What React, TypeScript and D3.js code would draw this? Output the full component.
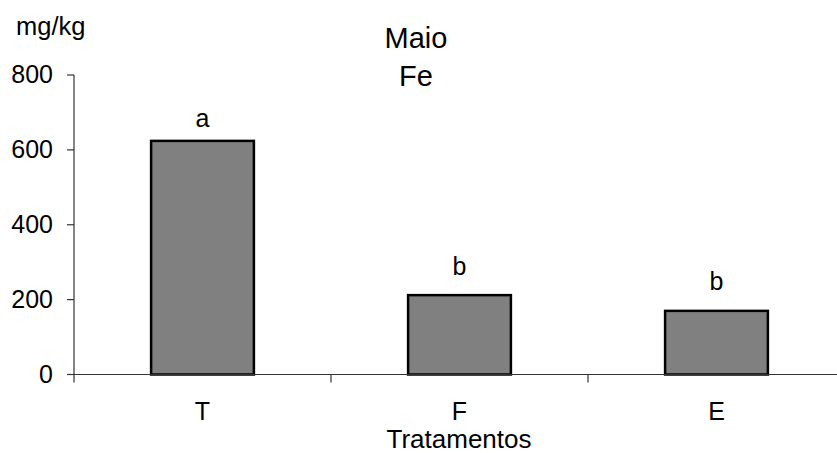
import React from "react";
import * as d3 from "d3";

const categories = ["T", "F", "E"];
const values = [624, 212, 170];
const letters = ["a", "b", "b"];
const letterPos = [660, 265, 225];
const yTicks = [0, 200, 400, 600, 800];

const W = 837;
const H = 453;
const FONT = "Arial, 'Liberation Sans', sans-serif";

export default function App() {
  const x = d3.scaleBand<string>().domain(categories).range([74, 845]).paddingInner(0.6).paddingOuter(0.3);
  const y = d3.scaleLinear().domain([0, 800]).range([374.5, 75]);
  const step = x.step();
  const bw = x.bandwidth();
  const boundaries = categories.map((c) => (x(c) as number) - (step - bw) / 2).concat([(x(categories[2]) as number) + bw + (step - bw) / 2]);

  return (
    <svg width={W} height={H} style={{ position: "absolute", left: 0, top: 0, background: "#fff" }} fontFamily={FONT}>
      <rect x={0} y={0} width={W} height={H} fill="#fff" />
      {/* y axis */}
      <line x1={74} x2={74} y1={y(800)} y2={y(0)} stroke="#333" strokeWidth={1.2} />
      {yTicks.map((t) => (
        <g key={t}>
          <line x1={67} x2={74} y1={y(t)} y2={y(t)} stroke="#333" strokeWidth={1.2} />
          <text x={53} y={y(t) + 8} textAnchor="end" fontSize={25} fill="#000">
            {t}
          </text>
        </g>
      ))}
      {/* bars */}
      {categories.map((c, i) => (
        <rect key={c} x={x(c)} y={y(values[i])} width={bw} height={y(0) - y(values[i])} fill="#808080" stroke="#000" strokeWidth={2.5} />
      ))}
      {/* x axis */}
      <line x1={74} x2={W} y1={y(0)} y2={y(0)} stroke="#333" strokeWidth={1.2} />
      {boundaries.map((b, i) => (
        <line key={i} x1={b} x2={b} y1={y(0)} y2={y(0) + 8} stroke="#333" strokeWidth={1.2} />
      ))}
      {categories.map((c) => (
        <text key={c} x={(x(c) as number) + bw / 2} y={420} textAnchor="middle" fontSize={25} fill="#000">
          {c}
        </text>
      ))}
      {categories.map((c, i) => (
        <text key={"l" + c} x={(x(c) as number) + bw / 2} y={y(letterPos[i])} textAnchor="middle" fontSize={25} fill="#000">
          {letters[i]}
        </text>
      ))}
      <text x={459} y={448} textAnchor="middle" fontSize={26} fill="#000">Tratamentos</text>
      <text x={416} y={48} textAnchor="middle" fontSize={29} fill="#000">Maio</text>
      <text x={416} y={86} textAnchor="middle" fontSize={29} fill="#000">Fe</text>
      <text x={16} y={35} fontSize={25.5} fill="#000">mg/kg</text>
    </svg>
  );
}
